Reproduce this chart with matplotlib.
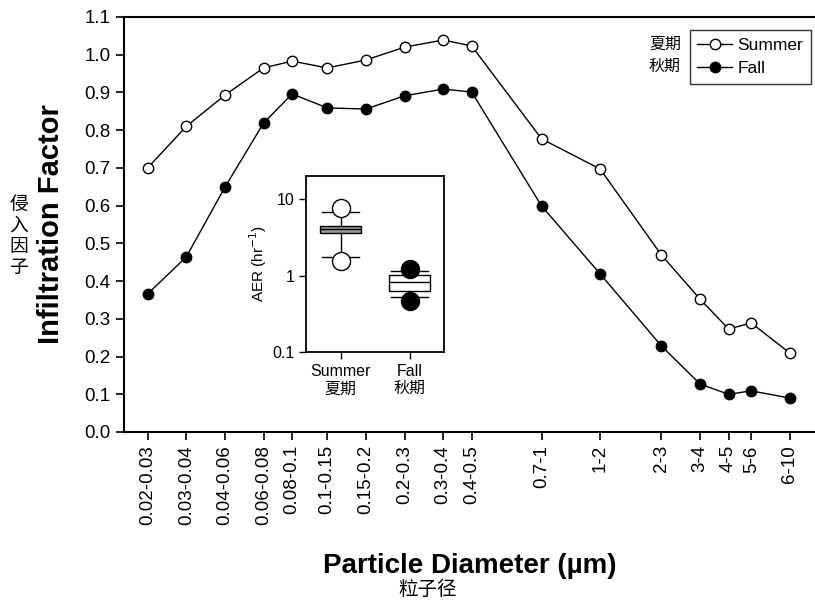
import numpy as np
import matplotlib
matplotlib.use("Agg")
import matplotlib.pyplot as plt

plt.rcParams['font.family'] = ['Liberation Sans', 'Noto Sans CJK SC', 'DejaVu Sans']

# size bins (um) and their labels
bin_lo = [0.02, 0.03, 0.04, 0.06, 0.08, 0.1, 0.15, 0.2, 0.3, 0.4, 0.7, 1, 2, 3, 4, 5, 6]
bin_hi = [0.03, 0.04, 0.06, 0.08, 0.1, 0.15, 0.2, 0.3, 0.4, 0.5, 1, 2, 3, 4, 5, 6, 10]
bin_labels = ['0.02-0.03', '0.03-0.04', '0.04-0.06', '0.06-0.08', '0.08-0.1',
              '0.1-0.15', '0.15-0.2', '0.2-0.3', '0.3-0.4', '0.4-0.5',
              '0.7-1', '1-2', '2-3', '3-4', '4-5', '5-6', '6-10']

summer = [0.70, 0.81, 0.893, 0.965, 0.983, 0.965, 0.986, 1.020, 1.039, 1.023,
          0.777, 0.697, 0.469, 0.352, 0.273, 0.289, 0.209]
fall = [0.366, 0.464, 0.649, 0.819, 0.896, 0.859, 0.856, 0.891, 0.909, 0.901,
        0.599, 0.419, 0.228, 0.127, 0.100, 0.109, 0.090]

# inset: air exchange rate box stats
aer_names = ['Summer\n夏期', 'Fall\n秋期']
aer_q1 = [3.65, 0.625]
aer_med = [4.0, 0.83]
aer_q3 = [4.4, 1.03]
aer_lo = [1.73, 0.53]
aer_hi = [6.8, 1.14]
aer_out = [[7.6, 1.57], [1.23, 0.47]]

x = np.sqrt(np.array(bin_lo) * np.array(bin_hi))

fig = plt.figure(figsize=(8.15, 6.0), dpi=100)
ax = fig.add_axes([0.152, 0.28, 0.848, 0.6917])

ax.plot(x, summer, '-o', color='black', lw=1.0, ms=7.5, mfc='white', mec='black', mew=1.0, label='Summer')
ax.plot(x, fall, '-o', color='black', lw=1.0, ms=7.5, mfc='black', mec='black', label='Fall')

ax.set_xscale('log')
ax.set_xlim(0.0198, 9.7)
ax.set_ylim(0, 1.1)
ax.set_yticks(np.arange(0, 1.11, 0.1))
ax.set_yticklabels(['%.1f' % v for v in np.arange(0, 1.11, 0.1)])
ax.xaxis.set_minor_locator(matplotlib.ticker.NullLocator())
ax.set_xticks(x)
ax.set_xticklabels(bin_labels, rotation=90)
ax.tick_params(axis='both', labelsize=13.5, direction='out', length=6, width=1.2)
ax.spines['right'].set_visible(False)
for s in ['left', 'bottom', 'top']:
    ax.spines[s].set_linewidth(1.5)

ax.set_ylabel('Infiltration Factor', fontsize=21, fontweight='bold', labelpad=14)
ax.set_xlabel('Particle Diameter (µm)', fontsize=20, fontweight='bold', labelpad=20)

fig.text(0.023, 0.605, '侵\n入\n因\n子', fontsize=13.5, ha='center', va='center', linespacing=1.3)
fig.text(0.525, 0.017, '粒子径', fontsize=14, ha='center', va='center')

leg = ax.legend(loc='upper right', bbox_to_anchor=(0.994, 0.969), fontsize=12.5, frameon=True,
                fancybox=False, edgecolor='black', handlelength=2.0, handletextpad=0.3,
                borderpad=0.45, labelspacing=0.45, borderaxespad=0)
leg.get_frame().set_linewidth(1.0)
fig.text(0.816, 0.926, '夏期', fontsize=11.5, ha='center', va='center')
fig.text(0.816, 0.889, '秋期', fontsize=11.5, ha='center', va='center')

# inset
ins = fig.add_axes([0.3755, 0.4133, 0.1693, 0.2933])
stats = []
for i in range(2):
    stats.append(dict(med=aer_med[i], q1=aer_q1[i], q3=aer_q3[i],
                      whislo=aer_lo[i], whishi=aer_hi[i], fliers=aer_out[i]))
bp = ins.bxp(stats, positions=[1, 2], widths=0.6, patch_artist=True,
             capwidths=0.55,
             boxprops=dict(edgecolor='black', linewidth=1.0),
             medianprops=dict(color='black', linewidth=1.0),
             whiskerprops=dict(color='black', linewidth=1.0),
             capprops=dict(color='black', linewidth=1.0),
             flierprops=dict(marker='o', markersize=13, markerfacecolor='white',
                             markeredgecolor='black'))
bp['boxes'][0].set_facecolor('#9a9a9a')
bp['boxes'][1].set_facecolor('white')
bp['fliers'][1].set_markerfacecolor('black')
ins.set_yscale('log')
ins.set_ylim(0.1, 20)
ins.set_xlim(0.5, 2.5)
ins.set_yticks([0.1, 1, 10])
ins.set_yticklabels(['0.1', '1', '10'])
ins.yaxis.set_minor_locator(matplotlib.ticker.NullLocator())
ins.set_xticks([1, 2])
ins.set_xticklabels(aer_names)
ins.tick_params(axis='both', labelsize=11.5, direction='out', length=5, width=1.0)
ins.set_ylabel('AER (hr$^{-1}$)', fontsize=11, labelpad=2)
for s in ins.spines.values():
    s.set_linewidth(1.3)

fig.savefig('out.png', dpi=100, facecolor='white')
